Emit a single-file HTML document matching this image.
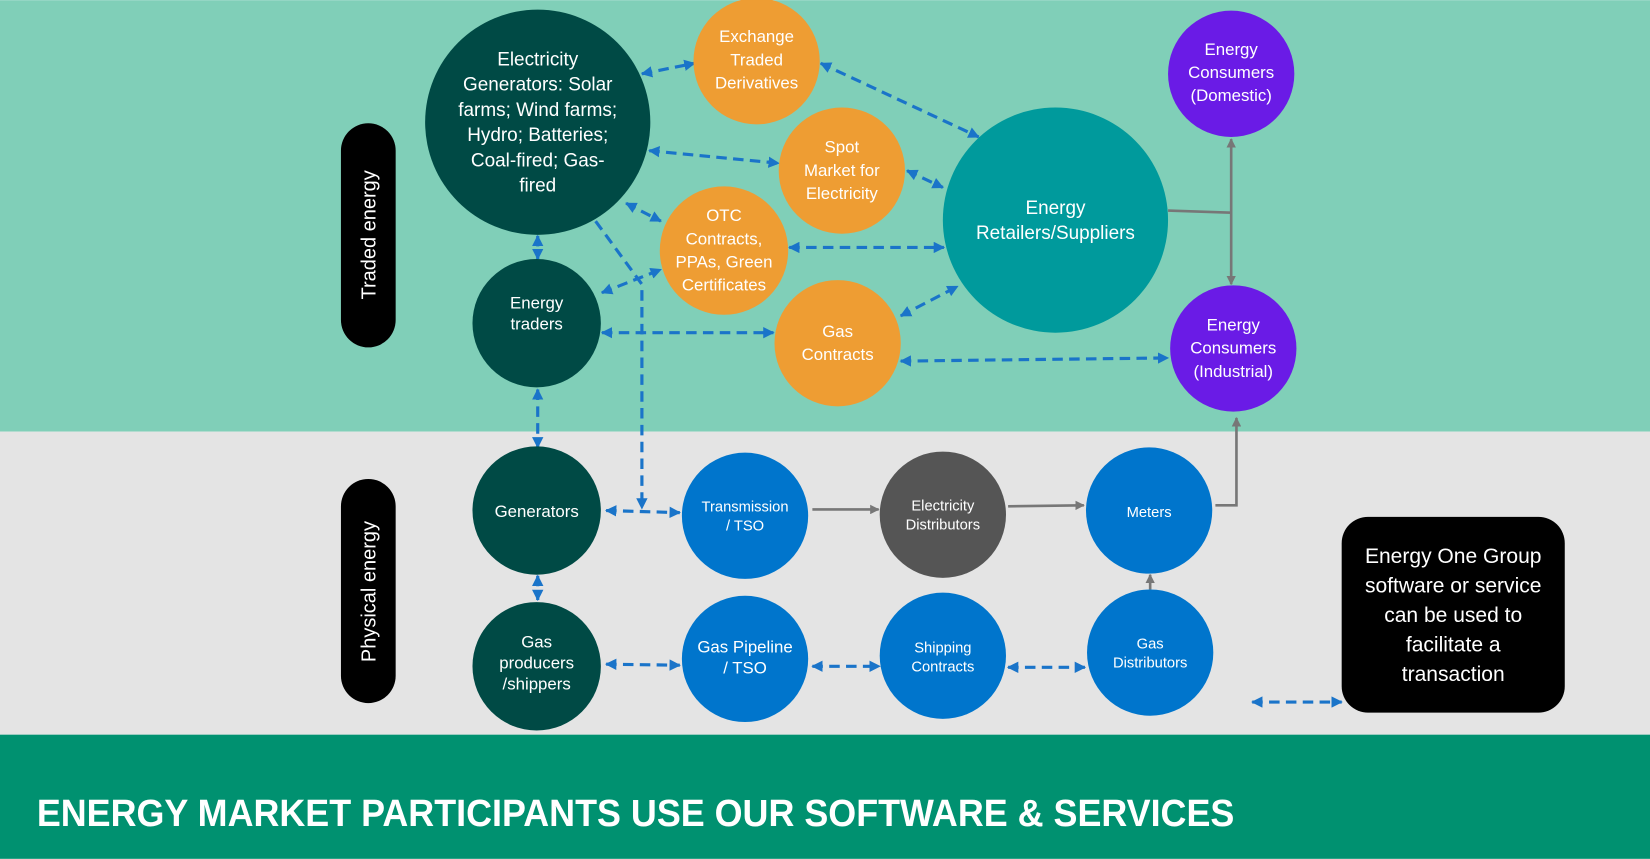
<!DOCTYPE html>
<html><head><meta charset="utf-8"><style>
html,body{margin:0;padding:0;width:1650px;height:859px;overflow:hidden;background:#fff}
svg{display:block}
text{font-family:"Liberation Sans",sans-serif;fill:#fff;text-anchor:middle}
</style></head><body>
<svg width="1650" height="859" viewBox="0 0 1568 816" xmlns="http://www.w3.org/2000/svg">
<defs>
<marker id="b" viewBox="0 0 10 10" refX="9" refY="5" markerWidth="3.6" markerHeight="3.6" orient="auto-start-reverse"><path d="M0,0L10,5L0,10z" fill="#1a74c9"/></marker>
<marker id="g" viewBox="0 0 10 10" refX="9" refY="5" markerWidth="3.6" markerHeight="3.6" orient="auto-start-reverse"><path d="M0,0L10,5L0,10z" fill="#777"/></marker>
</defs>
<rect x="0" y="0" width="1568" height="410" fill="#80cfb8"/>
<rect x="0" y="410" width="1568" height="288" fill="#e4e4e4"/>
<rect x="0" y="698" width="1568" height="118" fill="#009170"/>
<text x="35" y="785" textLength="1138" lengthAdjust="spacingAndGlyphs" style="text-anchor:start;font-size:36px;font-weight:bold">ENERGY MARKET PARTICIPANTS USE OUR SOFTWARE &amp; SERVICES</text>

<rect x="324" y="117" width="52" height="213" rx="26" fill="#000"/>
<text transform="translate(357,223) rotate(-90)" font-size="19">Traded energy</text>
<rect x="324" y="455" width="52" height="213" rx="26" fill="#000"/>
<text transform="translate(357,562) rotate(-90)" font-size="19">Physical energy</text>

<g fill="none" stroke="#1a74c9" stroke-width="3" stroke-dasharray="10,6" marker-start="url(#b)" marker-end="url(#b)">
<path d="M610,70L660,60"/>
<path d="M780,60L930,130"/>
<path d="M617,143L740,155"/>
<path d="M862,162L896,178"/>
<path d="M595,193L628,210"/>
<path d="M750,235L897,235"/>
<path d="M572,278L628,256"/>
<path d="M856,300L910,272"/>
<path d="M572,316L735,316"/>
<path d="M856,343L1110,340"/>
<path d="M511,224L511,246"/>
<path d="M511,370L511,425"/>
<path d="M576,485L646,487"/>
<path d="M511,547L511,570"/>
<path d="M576,631L646,632"/>
<path d="M772,633L836,633"/>
<path d="M958,634L1031,634"/>
<path d="M1190,667L1275,667"/>
<path d="M566,210L610,270L610,483" marker-start="none"/>
</g>
<g fill="none" stroke="#777" stroke-width="2.5">
<path d="M772,484L835,484" marker-end="url(#g)"/>
<path d="M958,481L1030,480" marker-end="url(#g)"/>
<path d="M1093,560L1093,546" marker-end="url(#g)"/>
<path d="M1155,480L1175,480L1175,397" marker-end="url(#g)"/>
<path d="M1110,200L1170,202"/>
<path d="M1170,132L1170,270" marker-start="url(#g)" marker-end="url(#g)"/>
</g>

<g>
<circle cx="511" cy="116" r="107" fill="#004a45"/>
<circle cx="719" cy="58" r="60" fill="#ee9d33"/>
<circle cx="800" cy="162" r="60" fill="#ee9d33"/>
<circle cx="688" cy="238" r="61" fill="#ee9d33"/>
<circle cx="796" cy="326" r="60" fill="#ee9d33"/>
<circle cx="510" cy="307" r="61" fill="#004a45"/>
<circle cx="1003" cy="209" r="107" fill="#009a9c"/>
<circle cx="1170" cy="70" r="60" fill="#6a1be6"/>
<circle cx="1172" cy="331" r="60" fill="#6a1be6"/>
<circle cx="510" cy="485" r="61" fill="#004a45"/>
<circle cx="510" cy="633" r="61" fill="#004a45"/>
<circle cx="708" cy="490" r="60" fill="#0075cc"/>
<circle cx="896" cy="489" r="60" fill="#555"/>
<circle cx="1092" cy="485" r="60" fill="#0075cc"/>
<circle cx="708" cy="626" r="60" fill="#0075cc"/>
<circle cx="896" cy="623" r="60" fill="#0075cc"/>
<circle cx="1093" cy="620" r="60" fill="#0075cc"/>
</g>
<rect x="1275" y="491" width="212" height="186" rx="25" fill="#000"/>

<g font-size="18">
<text x="511" y="62">Electricity</text><text x="511" y="86">Generators: Solar</text><text x="511" y="110">farms; Wind farms;</text><text x="511" y="134">Hydro; Batteries;</text><text x="511" y="158">Coal-fired; Gas-</text><text x="511" y="182">fired</text>
<text x="1003" y="203">Energy</text><text x="1003" y="227">Retailers/Suppliers</text>
</g>
<g font-size="16">
<text x="719" y="40">Exchange</text><text x="719" y="62">Traded</text><text x="719" y="84">Derivatives</text>
<text x="800" y="145">Spot</text><text x="800" y="167">Market for</text><text x="800" y="189">Electricity</text>
<text x="688" y="210">OTC</text><text x="688" y="232">Contracts,</text><text x="688" y="254">PPAs, Green</text><text x="688" y="276">Certificates</text>
<text x="796" y="320">Gas</text><text x="796" y="342">Contracts</text>
<text x="510" y="293">Energy</text><text x="510" y="313">traders</text>
<text x="1170" y="52">Energy</text><text x="1170" y="74">Consumers</text><text x="1170" y="96">(Domestic)</text>
<text x="1172" y="314">Energy</text><text x="1172" y="336">Consumers</text><text x="1172" y="358">(Industrial)</text>
<text x="510" y="491">Generators</text>
<text x="510" y="615">Gas</text><text x="510" y="635">producers</text><text x="510" y="655">/shippers</text>
<text x="708" y="620">Gas Pipeline</text><text x="708" y="640">/ TSO</text>
</g>
<g font-size="14">
<text x="708" y="486">Transmission</text><text x="708" y="504">/ TSO</text>
<text x="896" y="485">Electricity</text><text x="896" y="503">Distributors</text>
<text x="1092" y="491">Meters</text>
<text x="896" y="620">Shipping</text><text x="896" y="638">Contracts</text>
<text x="1093" y="616">Gas</text><text x="1093" y="634">Distributors</text>
</g>
<g font-size="20">
<text x="1381" y="535">Energy One Group</text><text x="1381" y="563">software or service</text><text x="1381" y="591">can be used to</text><text x="1381" y="619">facilitate a</text><text x="1381" y="647">transaction</text>
</g>
</svg>
</body></html>
